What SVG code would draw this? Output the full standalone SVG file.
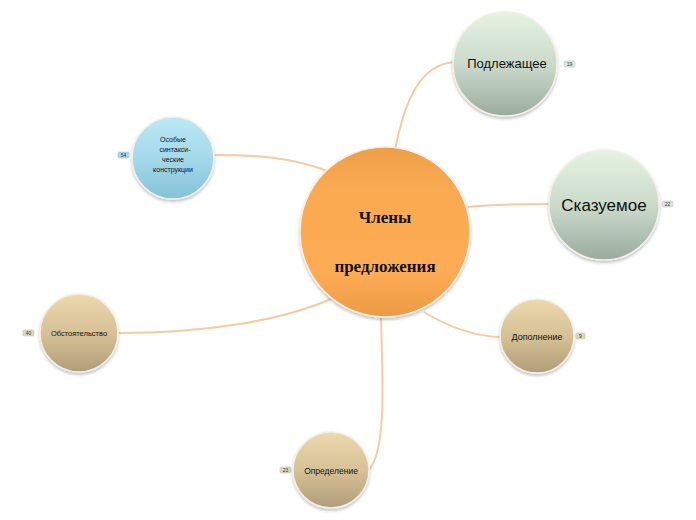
<svg xmlns="http://www.w3.org/2000/svg" width="696" height="520" viewBox="0 0 696 520">
<defs>
<linearGradient id="gOrange" x1="0" y1="0" x2="0" y2="1">
<stop offset="0" stop-color="#ec9f48"/>
<stop offset="0.25" stop-color="#fbaa52"/>
<stop offset="0.75" stop-color="#fdab54"/>
<stop offset="1" stop-color="#ec9a44"/>
</linearGradient>
<linearGradient id="gGreen" x1="0" y1="0" x2="0" y2="1">
<stop offset="0" stop-color="#e6f3e3"/>
<stop offset="0.5" stop-color="#cbdacb"/>
<stop offset="1" stop-color="#9aab9f"/>
</linearGradient>
<linearGradient id="gTan" x1="0" y1="0" x2="0" y2="1">
<stop offset="0" stop-color="#ecd9ad"/>
<stop offset="0.5" stop-color="#d7c196"/>
<stop offset="1" stop-color="#b09d78"/>
</linearGradient>
<linearGradient id="gBlue" x1="0" y1="0" x2="0" y2="1">
<stop offset="0" stop-color="#bce8f4"/>
<stop offset="0.5" stop-color="#a4d9ea"/>
<stop offset="1" stop-color="#84c2d8"/>
</linearGradient>
<filter id="sh" x="-20%" y="-20%" width="140%" height="150%">
<feDropShadow dx="0" dy="2" stdDeviation="1.5" flood-color="#000" flood-opacity="0.25"/>
</filter>
</defs>
<style>
.con{fill:none;stroke:#f6cba0;stroke-width:2}
.ring{stroke:#f4efe6;stroke-width:1.5;filter:url(#sh)}
.t{font-family:"Liberation Sans",Arial,sans-serif;text-anchor:middle;fill:#111}
.ts{font-family:"Liberation Serif","Times New Roman",serif;font-weight:bold;text-anchor:middle;fill:#111}
.bg{fill:#ddd8c0;stroke:#bdb595;stroke-width:0.5}
.bgg{fill:#dfe6dd;stroke:#b6c0b4;stroke-width:0.5}
.bgb{fill:#a9d9ea;stroke:#7fb9cf;stroke-width:0.5}
.bt{font-family:"Liberation Sans",Arial,sans-serif;font-size:5px;text-anchor:middle;fill:#333}
</style>
<rect width="696" height="520" fill="#ffffff"/>
<g id="connectors">
<path class="con" d="M395 150 C405 100 420 64 455 62"/>
<path class="con" d="M468 207 C495 204 520 204 550 204"/>
<path class="con" d="M424 312 C450 328 475 336 500 337"/>
<path class="con" d="M381 318 C383 385 386 450 369 470"/>
<path class="con" d="M333 298 C280 322 200 333 119 333"/>
<path class="con" d="M330 172 C290 156 250 155 214 155"/>
</g>
<g id="center">
<circle class="ring" cx="385" cy="232" r="85" fill="url(#gOrange)"/>
<text class="ts" x="385" y="223" font-size="17">Члены</text>
<text class="ts" x="385" y="272" font-size="17">предложения</text>
</g>
<g id="podlezhashchee">
<circle class="ring" cx="505" cy="64" r="52" fill="url(#gGreen)"/>
<text class="t" x="507" y="68" font-size="13">Подлежащее</text>
<rect class="bgg" x="564" y="61" width="11" height="6" rx="1.5"/>
<text class="bt" x="569.5" y="65.7">19</text>
</g>
<g id="skazuemoe">
<circle class="ring" cx="604" cy="205" r="55" fill="url(#gGreen)"/>
<text class="t" x="604" y="211" font-size="17">Сказуемое</text>
<rect class="bgg" x="662" y="201" width="11" height="6" rx="1.5"/>
<text class="bt" x="667.5" y="205.7">22</text>
</g>
<g id="dopolnenie">
<circle class="ring" cx="537" cy="336" r="37" fill="url(#gTan)"/>
<text class="t" x="537" y="340" font-size="9">Дополнение</text>
<rect class="bg" x="576" y="333" width="9" height="6" rx="1.5"/>
<text class="bt" x="580.5" y="337.7">9</text>
</g>
<g id="obstoyatelstvo">
<circle class="ring" cx="79" cy="333" r="39" fill="url(#gTan)"/>
<text class="t" x="79" y="336" font-size="7.5">Обстоятельство</text>
<rect class="bg" x="23" y="330" width="11" height="6" rx="1.5"/>
<text class="bt" x="28.5" y="334.7">40</text>
</g>
<g id="opredelenie">
<circle class="ring" cx="331" cy="470" r="38" fill="url(#gTan)"/>
<text class="t" x="331" y="474" font-size="8.5">Определение</text>
<rect class="bg" x="280" y="467" width="11" height="6" rx="1.5"/>
<text class="bt" x="285.5" y="471.7">23</text>
</g>
<g id="osobye">
<circle class="ring" cx="173" cy="158" r="41" fill="url(#gBlue)"/>
<text class="t" x="173" y="142" font-size="7">Особые</text>
<text class="t" x="175" y="152" font-size="7">синтакси-</text>
<text class="t" x="173" y="162" font-size="7">ческие</text>
<text class="t" x="173" y="172" font-size="7">конструкции</text>
<rect class="bgb" x="118" y="152" width="11" height="6" rx="1.5"/>
<text class="bt" x="123.5" y="156.7">54</text>
</g>
</svg>
